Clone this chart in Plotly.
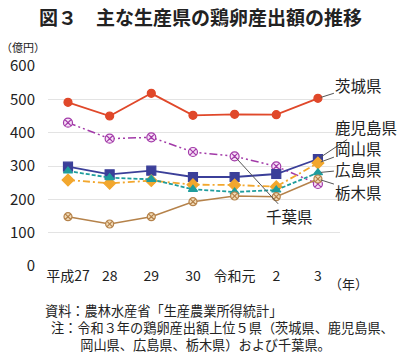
import plotly.graph_objects as go

years = ["平成27", "28", "29", "30", "令和元", "2", "3"]
ibaraki = [491, 450, 518, 452, 455, 454, 503]
kagoshima = [298, 275, 286, 267, 267, 276, 321]
okayama = [258, 248, 256, 244, 243, 238, 309]
hiroshima = [285, 265, 260, 230, 222, 228, 280]
tochigi = [148, 126, 148, 193, 210, 208, 261]
chiba = [430, 382, 386, 342, 329, 299, 246]
yticks = [0, 100, 200, 300, 400, 500, 600]
note_lines = [
    "資料：農林水産省「生産農業所得統計」",
    "\u00a0\u00a0注：令和３年の鶏卵産出額上位５県（茨城県、鹿児島県、",
    "\u3000\u3000\u00a0\u00a0\u00a0岡山県、広島県、栃木県）および千葉県。",
]

FONT = "Noto Sans CJK JP"
xs = list(range(len(years)))

# plot area in pixels: x 48..340, y 66..266
L, R, T, B = 48, 340, 66, 266
def px(x):
    return (x - L) / (R - L)
def py(y):
    return (B - y) / (B - T)

series = [
    ("茨城県", ibaraki, "#e0482a", "solid", "circle", "#e0482a", 8, 1.8),
    ("千葉県", chiba, "#a23aa8", "8px,3px,2px,3px,2px,3px", "circle-x", "#f7e0f7", 9, 1.5),
    ("鹿児島県", kagoshima, "#3b3f99", "solid", "square", "#3b3f99", 9, 1.8),
    ("岡山県", okayama, "#f2a72e", "7px,3px,2px,3px", "diamond", "#f2a72e", 9, 1.8),
    ("広島県", hiroshima, "#1f9d9d", "4px,2px", "triangle-up", "#1f9d9d", 8, 1.8),
    ("栃木県", tochigi, "#b5824a", "solid", "circle-x", "#f2dcb8", 8, 1.5),
]

fig = go.Figure()
for name, vals, col, dash, sym, fill, size, lw in series:
    fig.add_trace(go.Scatter(
        x=xs, y=vals, mode="lines+markers", name=name,
        line=dict(color=col, width=lw, dash=dash),
        marker=dict(symbol=sym, size=size, color=fill, line=dict(color=col, width=1.2)),
        showlegend=False,
    ))

labels = [
    ("茨城県", 6, ibaraki[6], 41, -13),
    ("鹿児島県", 6, kagoshima[6], 48, -32),
    ("岡山県", 6, okayama[6], 41, -15),
    ("広島県", 6, hiroshima[6], 41, -4),
    ("栃木県", 6, tochigi[6], 41, 13),
    ("千葉県", 4, chiba[4], 55, 60),
]
for txt, xi, v, ax, ay in labels:
    fig.add_annotation(
        x=xi, y=v, xref="x", yref="y", text=txt, showarrow=True,
        arrowhead=0, arrowwidth=1, arrowcolor="#555555", ax=ax, ay=ay,
        font=dict(family=FONT, size=15.5, color="#222222"), standoff=3,
    )

fig.add_annotation(xref="paper", yref="paper", x=px(200), y=py(16),
                   xanchor="center", yanchor="middle",
                   text="<b>図３　主な生産県の鶏卵産出額の推移</b>", showarrow=False,
                   font=dict(family=FONT, size=19, color="#222222"))
fig.add_annotation(xref="paper", yref="paper", x=px(0), y=py(47),
                   xanchor="left", yanchor="middle", text="（億円）", showarrow=False,
                   borderpad=0, font=dict(family=FONT, size=11, color="#222222"))
fig.add_annotation(xref="paper", yref="paper", x=px(327), y=py(283),
                   xanchor="left", yanchor="middle", text="（年）", showarrow=False,
                   font=dict(family=FONT, size=13, color="#222222"))

fig.add_annotation(xref="paper", yref="paper", x=px(44), y=py(327),
                   xanchor="left", yanchor="middle", align="left",
                   text="<br>".join(note_lines), showarrow=False, borderpad=0,
                   font=dict(family=FONT, size=13.2, color="#222222"))

fig.update_layout(
    width=400, height=356,
    margin=dict(l=L, r=400 - R, t=T, b=356 - B, pad=0),
    paper_bgcolor="white", plot_bgcolor="white",
    font=dict(family=FONT, color="#222222"),
)
fig.update_xaxes(range=[-0.48, 6.53], tickvals=xs, ticktext=years, showgrid=False,
                 zeroline=False, showline=False, ticks="", automargin=False,
                 tickfont=dict(family=FONT, size=14, color="#222222"))
fig.update_yaxes(range=[0, 600], tickvals=yticks, showgrid=True, gridcolor="#e3e3e3",
                 gridwidth=1, zeroline=False, showline=False, ticks="", automargin=False,
                 ticklabelstandoff=12,
                 tickfont=dict(family=FONT, size=15, color="#222222"))

fig.write_html("out.html", config={"displayModeBar": False},
               post_script="document.body.style.margin='0';")
